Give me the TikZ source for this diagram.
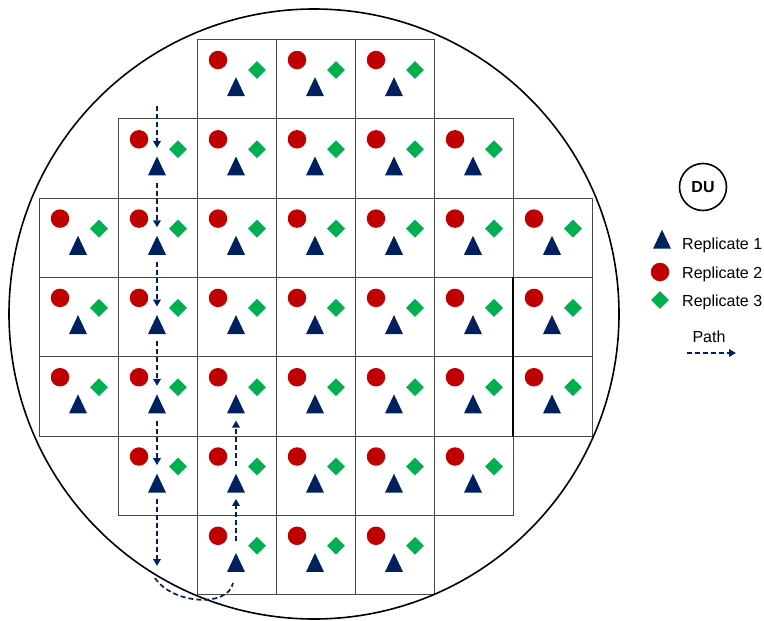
\documentclass[tikz,border=0pt]{standalone}
\usepackage{fontspec}
\setmainfont{Liberation Sans}
\usepackage{tikz}
\usetikzlibrary{positioning,arrows.meta,shapes.geometric}
\definecolor{repnavy}{RGB}{0,32,96}
\definecolor{repred}{RGB}{192,0,0}
\definecolor{repgreen}{RGB}{0,176,80}
\definecolor{cellgray}{RGB}{72,72,72}

\begin{document}
\begin{tikzpicture}[x=1pt, y=-1pt,
  cellbox/.style={draw=cellgray, line width=1pt, minimum width=79pt, minimum height=79.3pt, inner sep=0pt, anchor=north west},
  rep1/.style={isosceles triangle, isosceles triangle stretches, shape border rotate=90, fill=repnavy, inner sep=0pt, minimum width=18pt, minimum height=19pt},
  rep2/.style={circle, fill=repred, inner sep=0pt, minimum size=18.5pt},
  rep3/.style={diamond, fill=repgreen, inner sep=0pt, minimum size=18pt},
  walk/.style={repnavy, line width=1.7pt, dash pattern=on 5pt off 3pt, -{Triangle[length=7pt,width=7.5pt]}},
  legtext/.style={font=\fontsize{16}{19}\selectfont, inner sep=0pt}]

\useasboundingbox (0,0) rectangle (764,621);

% die grid: row / first column / last column
\foreach \r/\first/\last in {0/2/4,1/1/5,2/0/6,3/0/6,4/0/6,5/1/5,6/2/4}
  \foreach \c in {\first,...,\last} {
    \node[cellbox] (cell-\r-\c) at (39+79*\c, 39+79.3*\r) {};
    \node[rep2] (cir-\r-\c) at ([shift={(21,21)}]cell-\r-\c.north west) {};
    \node[rep3] (dia-\r-\c) at ([shift={(60,31)}]cell-\r-\c.north west) {};
    \node[rep1] (tri-\r-\c) at ([shift={(39,51.5)}]cell-\r-\c.north west) {};
  }
\draw[black, line width=1.2pt] (cell-3-6.north west) -- (cell-4-6.south west);

\node[circle, draw, line width=1.6pt, minimum size=610pt, inner sep=0pt] (wafer) at (314,314) {};

% walking path
\coordinate (walk-start) at (157,106);
\draw[walk, shorten >=8pt] (walk-start) -- (tri-1-1.north);
\foreach \r/\n in {1/2,2/3,3/4,4/5}
  \draw[walk, shorten <=7pt, shorten >=8pt] (tri-\r-1.south) -- (tri-\n-1.north);
\coordinate (walk-down) at (157,566);
\draw[walk, shorten <=6pt] (tri-5-1.south) -- (walk-down);
\coordinate (bend-l) at (155,578);
\coordinate (bend-r) at (233,583);
\draw[walk, -] (bend-l) .. controls (172,604) and (228,608) .. (bend-r);
\draw[walk, shorten <=11pt, shorten >=6pt] (tri-6-2.north) -- (tri-5-2.south);
\draw[walk, shorten <=7pt, shorten >=7pt] (tri-5-2.north) -- (tri-4-2.south);

% legend
\node[circle, draw, line width=1.6pt, minimum size=47pt, inner sep=0pt, font=\bfseries\fontsize{16}{19}\selectfont] (du) at (703,187) {DU};
\node[rep1] (leg-tri) at (662,243) {};
\node[legtext, anchor=base west] (leg-1) at (682,249) {Replicate 1};
\node[rep2] (leg-cir) at (660,272) {};
\node[legtext, anchor=base west] (leg-2) at (682,278) {Replicate 2};
\node[rep3] (leg-dia) at (660,300) {};
\node[legtext, anchor=base west] (leg-3) at (682,306.5) {Replicate 3};
\node[legtext, anchor=base] (leg-path) at (709,342.5) {Path};
\coordinate (walk-a) at (687,353);
\coordinate (walk-b) at (736,353);
\draw[walk] (walk-a) -- (walk-b);
\end{tikzpicture}
\end{document}
